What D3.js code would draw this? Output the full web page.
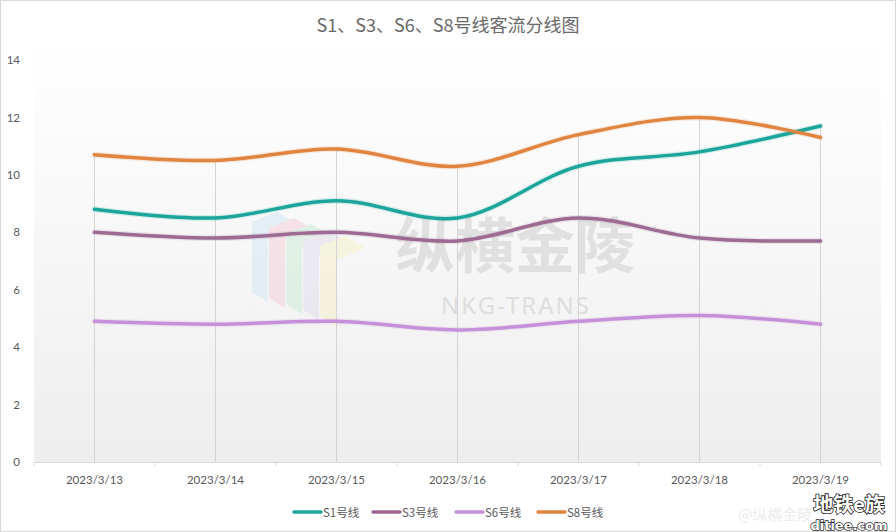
<!DOCTYPE html>
<html><head><meta charset="utf-8">
<script src="https://cdn.jsdelivr.net/npm/d3@7"></script>
<style>html,body{margin:0;padding:0;background:#fff;}svg{display:block;}</style>
</head><body>
<svg id="chart" width="896" height="532"></svg>
<script>
const dates = ["2023/3/13","2023/3/14","2023/3/15","2023/3/16","2023/3/17","2023/3/18","2023/3/19"];
const seriesNames = ["S1号线","S3号线","S6号线","S8号线"];
const s1 = [8.8, 8.5, 9.1, 8.5, 10.3, 10.8, 11.7];
const s3 = [8.0, 7.8, 8.0, 7.7, 8.5, 7.8, 7.7];
const s6 = [4.9, 4.8, 4.9, 4.6, 4.9, 5.1, 4.8];
const s8 = [10.7, 10.5, 10.9, 10.3, 11.4, 12.0, 11.3];
const yTicks = [0,2,4,6,8,10,12,14];
const colors = ["#1ba59b","#9c6a92","#c690d8","#e0843f"];
const title = "S1、S3、S6、S8号线客流分线图";

const allSeries = [s1,s3,s6,s8];
const svg = d3.select("#chart");
const W = 896, H = 532;
const ml = 34, mr = 881, mt = 60, mb = 462;

const x = d3.scaleBand().domain(dates).range([ml, mr]).padding(0);
const y = d3.scaleLinear().domain([0,14]).range([mb, mt]);
const cx = d => x(d) + x.bandwidth()/2;

// border
svg.append("rect").attr("x",0.5).attr("y",0.5).attr("width",W-1).attr("height",H-1)
  .attr("fill","#fff").attr("stroke","#d9d9d9");

// plot gradient background
const defs = svg.append("defs");
const g = defs.append("linearGradient").attr("id","bg").attr("x1",0).attr("y1",0).attr("x2",0).attr("y2",1);
g.append("stop").attr("offset","0%").attr("stop-color","#ffffff");
g.append("stop").attr("offset","100%").attr("stop-color","#eeeeee");
svg.append("rect").attr("x",ml).attr("y",40).attr("width",mr-ml).attr("height",mb-40).attr("fill","url(#bg)");

// watermark logo (faint)
const logo = svg.append("g").attr("opacity",0.35);
const logoCols = ["#bfe0f2","#f2b9c9","#b9e5c8","#d8d3e8","#f4efb0"];
logoCols.forEach((c,i)=>{
  const x0 = 252 + i*17, y0 = 222 + i*6;
  logo.append("path").attr("d",`M${x0},${y0} L${x0+25},${y0-10} L${x0+45},${y0+2} L${x0+16},${y0+14} L${x0+16},${y0+80} L${x0},${y0+70} Z`).attr("fill",c);
});
// watermark text
svg.append("text").attr("x",515).attr("y",268).attr("text-anchor","middle")
  .attr("font-family","'Noto Sans CJK SC'").attr("font-weight","bold").attr("font-size",60)
  .attr("fill","#cfcfcf").attr("opacity",0.55).text("纵横金陵");
svg.append("text").attr("x",516).attr("y",314).attr("text-anchor","middle")
  .attr("font-family","'Noto Sans', sans-serif").attr("font-size",24).attr("letter-spacing",2)
  .attr("fill","#cfcfcf").attr("opacity",0.6).text("NKG-TRANS");

// drop lines at max value
dates.forEach((d,i)=>{
  const mx = d3.max(allSeries, s=>s[i]);
  svg.append("line").attr("x1",cx(d)).attr("x2",cx(d)).attr("y1",y(mx)).attr("y2",y(0))
    .attr("stroke","#d4d4d4").attr("stroke-width",1);
});

// x axis
const xAxis = svg.append("g").attr("transform",`translate(0,${mb})`)
  .call(d3.axisBottom(x).tickSize(0).tickPadding(14));
xAxis.select(".domain").attr("stroke","#d9d9d9");
xAxis.selectAll("text").attr("font-family","Lato, 'Noto Sans', sans-serif").attr("font-size",11.5).attr("fill","#595959");
// boundary ticks
const bounds = dates.map(d=>x(d)).concat([mr]);
svg.selectAll(".btick").data(bounds).enter().append("line")
  .attr("x1",d=>d).attr("x2",d=>d).attr("y1",mb).attr("y2",mb+4).attr("stroke","#d9d9d9");

// y axis labels
const yAxis = svg.append("g").attr("transform",`translate(${ml},0)`)
  .call(d3.axisLeft(y).tickValues(yTicks).tickSize(0).tickPadding(14));
yAxis.select(".domain").remove();
yAxis.selectAll("text").attr("font-family","Lato, 'Noto Sans', sans-serif").attr("font-size",11.5).attr("fill","#595959");

// lines
const line = d3.line().x((v,i)=>cx(dates[i])).y(v=>y(v)).curve(d3.curveCatmullRom.alpha(0.5));
allSeries.forEach((s,k)=>{
  svg.append("path").datum(s).attr("d",line).attr("fill","none")
    .attr("stroke",colors[k]).attr("stroke-width",6).attr("stroke-opacity",0.15).attr("stroke-linecap","round");
  svg.append("path").datum(s).attr("d",line).attr("fill","none")
    .attr("stroke",colors[k]).attr("stroke-width",3.5).attr("stroke-linecap","round");
});

// title
svg.append("text").attr("x",448).attr("y",32).attr("text-anchor","middle")
  .attr("font-family","'Noto Sans CJK SC', sans-serif").attr("font-size",18).attr("fill","#6a6a6a").text(title);

// legend
const legX = [294, 373, 456, 538];
seriesNames.forEach((n,k)=>{
  svg.append("line").attr("x1",legX[k]).attr("x2",legX[k]+27).attr("y1",512).attr("y2",512)
    .attr("stroke",colors[k]).attr("stroke-width",3.5).attr("stroke-linecap","round");
  svg.append("text").attr("x",legX[k]+29).attr("y",516.5)
    .attr("font-family","'Noto Sans CJK SC', sans-serif").attr("font-size",11.5).attr("fill","#595959").text(n);
});

// bottom-right watermark
svg.append("text").attr("x",738).attr("y",520).attr("font-family","'Noto Sans CJK SC', sans-serif")
  .attr("font-size",15).attr("fill","#ececec").text("@纵横金陵");
svg.append("text").attr("x",849).attr("y",512).attr("text-anchor","middle")
  .attr("font-family","'Noto Sans CJK SC', sans-serif").attr("font-weight","bold").attr("font-size",20)
  .attr("fill","#fff").attr("stroke","#222").attr("stroke-width",1.6).attr("paint-order","stroke").text("地铁e族");
svg.append("text").attr("x",849).attr("y",530).attr("text-anchor","middle")
  .attr("font-family","'DejaVu Sans', sans-serif").attr("font-weight","bold").attr("font-size",13)
  .attr("fill","#fff").attr("stroke","#222").attr("stroke-width",1.4).attr("paint-order","stroke").text("ditiee.com");
</script>
</body></html>
